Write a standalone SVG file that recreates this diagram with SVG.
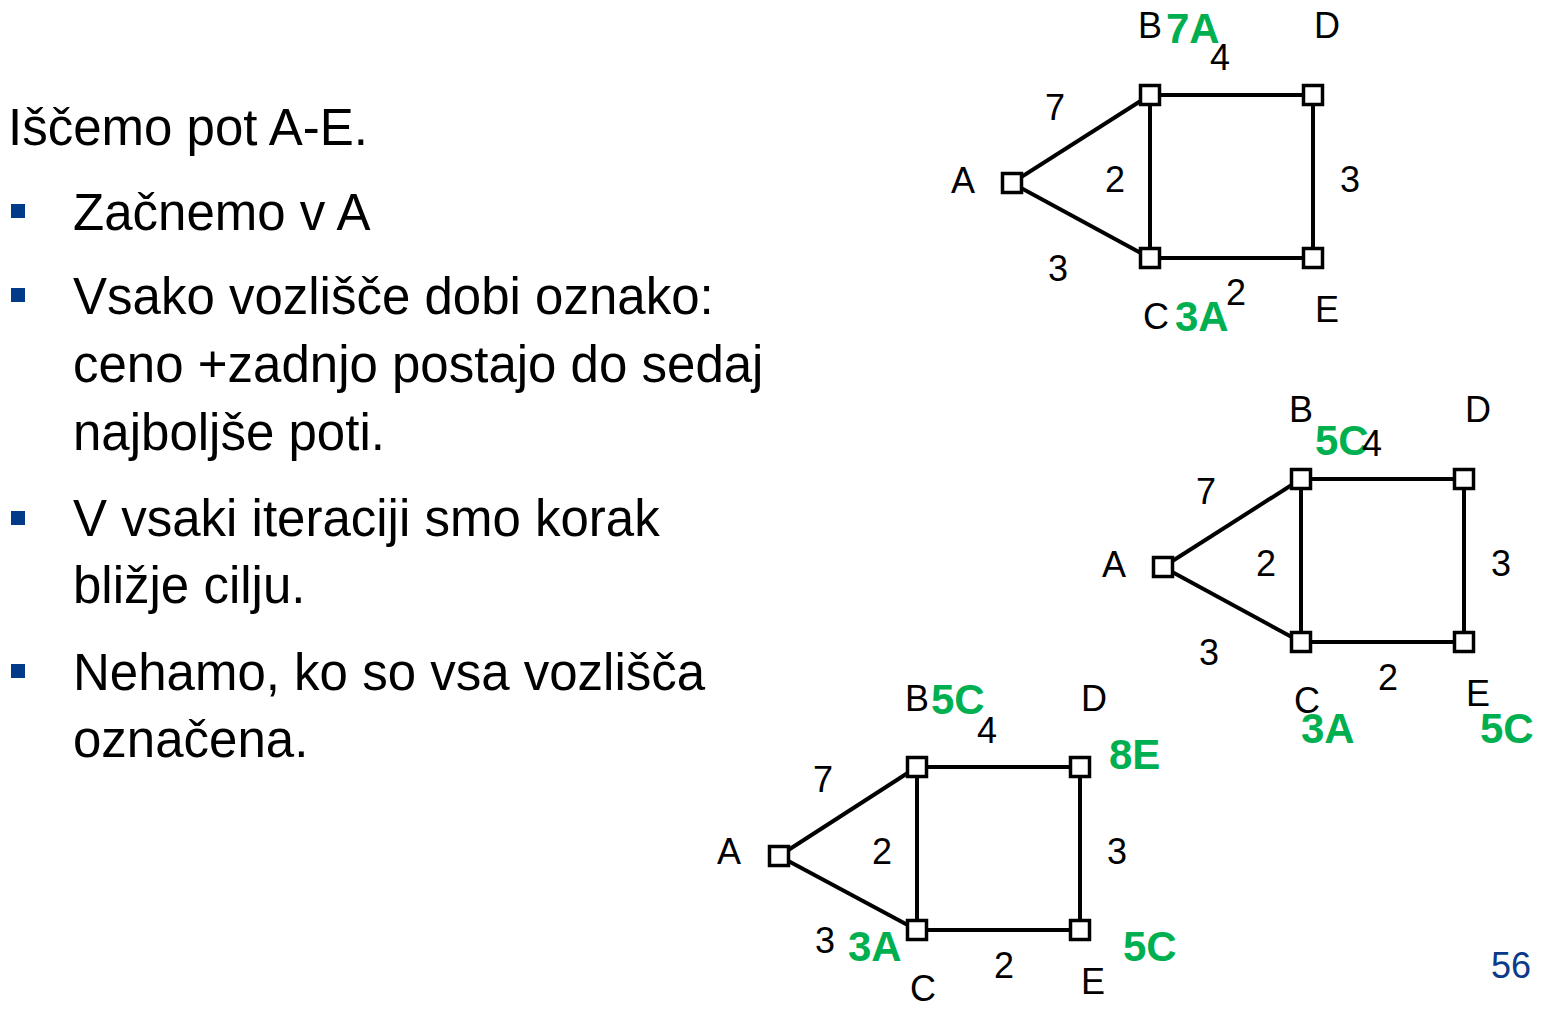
<svg xmlns="http://www.w3.org/2000/svg" width="1547" height="1010" viewBox="0 0 1547 1010">
<style>
text{font-family:"Liberation Sans",Arial,sans-serif;fill:#000}
.body{font-size:51px}
.lbl{font-size:36px}
.grn{font-size:42px;font-weight:bold;fill:#00B050}
.pg{font-size:36px;fill:#0B3A8A}
.bul{fill:#003A88}
.edge{stroke:#000;stroke-width:4;fill:none}
.node{fill:#fff;stroke:#000;stroke-width:3.5}
</style>
<defs>
<rect id="box" x="-9.5" y="-9.5" width="19" height="19" class="node"/>
</defs>
<rect width="1547" height="1010" fill="#fff"/>

<g id="text">
<text class="body" x="8" y="145">Iščemo pot A-E.</text>
<rect class="bul" x="11" y="204" width="14" height="14"/>
<text class="body" x="73" y="230">Začnemo v A</text>
<rect class="bul" x="11" y="288" width="14" height="14"/>
<text class="body" x="73" y="314">Vsako vozlišče dobi oznako:</text>
<text class="body" x="73" y="382">ceno +zadnjo postajo do sedaj</text>
<text class="body" x="73" y="450">najboljše poti.</text>
<rect class="bul" x="11" y="511" width="14" height="14"/>
<text class="body" x="73" y="536">V vsaki iteraciji smo korak</text>
<text class="body" x="73" y="603">bližje cilju.</text>
<rect class="bul" x="11" y="664" width="14" height="14"/>
<text class="body" x="73" y="690">Nehamo, ko so vsa vozlišča</text>
<text class="body" x="73" y="757">označena.</text>
<text class="pg" x="1491" y="978">56</text>
</g>

<!-- Graph 1 -->
<g id="graph1">
<g id="g1-edges">
<line class="edge" x1="1012" y1="183" x2="1150" y2="95"/>
<line class="edge" x1="1012" y1="183" x2="1150" y2="258"/>
<line class="edge" x1="1150" y1="95" x2="1150" y2="258"/>
<line class="edge" x1="1150" y1="95" x2="1313" y2="95"/>
<line class="edge" x1="1313" y1="95" x2="1313" y2="258"/>
<line class="edge" x1="1150" y1="258" x2="1313" y2="258"/>
</g>
<g id="g1-A"><use href="#box" x="1012" y="183"/><text class="lbl" x="951" y="193">A</text></g>
<g id="g1-B"><use href="#box" x="1150" y="95"/><text class="lbl" x="1138" y="38">B</text><text class="grn" x="1166" y="43">7A</text></g>
<g id="g1-D"><use href="#box" x="1313" y="95"/><text class="lbl" x="1314" y="38">D</text></g>
<g id="g1-C"><use href="#box" x="1150" y="258"/><text class="lbl" x="1143" y="329">C</text><text class="grn" x="1175" y="331">3A</text></g>
<g id="g1-E"><use href="#box" x="1313" y="258"/><text class="lbl" x="1315" y="322">E</text></g>
<g id="g1-weights">
<text class="lbl" x="1045" y="120">7</text>
<text class="lbl" x="1210" y="70">4</text>
<text class="lbl" x="1105" y="192">2</text>
<text class="lbl" x="1340" y="192">3</text>
<text class="lbl" x="1048" y="281">3</text>
<text class="lbl" x="1226" y="305">2</text>
</g>
</g>

<!-- Graph 2 -->
<g id="graph2">
<g id="g2-edges">
<line class="edge" x1="1163" y1="567" x2="1301" y2="479"/>
<line class="edge" x1="1163" y1="567" x2="1301" y2="642"/>
<line class="edge" x1="1301" y1="479" x2="1301" y2="642"/>
<line class="edge" x1="1301" y1="479" x2="1464" y2="479"/>
<line class="edge" x1="1464" y1="479" x2="1464" y2="642"/>
<line class="edge" x1="1301" y1="642" x2="1464" y2="642"/>
</g>
<g id="g2-A"><use href="#box" x="1163" y="567"/><text class="lbl" x="1102" y="577">A</text></g>
<g id="g2-B"><use href="#box" x="1301" y="479"/><text class="lbl" x="1289" y="422">B</text><text class="grn" x="1315" y="455">5C</text></g>
<g id="g2-D"><use href="#box" x="1464" y="479"/><text class="lbl" x="1465" y="422">D</text></g>
<g id="g2-C"><use href="#box" x="1301" y="642"/><text class="lbl" x="1294" y="713">C</text><text class="grn" x="1301" y="743">3A</text></g>
<g id="g2-E"><use href="#box" x="1464" y="642"/><text class="lbl" x="1466" y="706">E</text><text class="grn" x="1480" y="743">5C</text></g>
<g id="g2-weights">
<text class="lbl" x="1196" y="504">7</text>
<text class="lbl" x="1362" y="456">4</text>
<text class="lbl" x="1256" y="576">2</text>
<text class="lbl" x="1491" y="576">3</text>
<text class="lbl" x="1199" y="665">3</text>
<text class="lbl" x="1378" y="690">2</text>
</g>
</g>

<!-- Graph 3 -->
<g id="graph3">
<g id="g3-edges">
<line class="edge" x1="779" y1="856" x2="917" y2="767"/>
<line class="edge" x1="779" y1="856" x2="917" y2="930"/>
<line class="edge" x1="917" y1="767" x2="917" y2="930"/>
<line class="edge" x1="917" y1="767" x2="1080" y2="767"/>
<line class="edge" x1="1080" y1="767" x2="1080" y2="930"/>
<line class="edge" x1="917" y1="930" x2="1080" y2="930"/>
</g>
<g id="g3-A"><use href="#box" x="779" y="856"/><text class="lbl" x="717" y="864">A</text></g>
<g id="g3-B"><use href="#box" x="917" y="767"/><text class="lbl" x="905" y="711">B</text><text class="grn" x="931" y="714">5C</text></g>
<g id="g3-D"><use href="#box" x="1080" y="767"/><text class="lbl" x="1081" y="711">D</text><text class="grn" x="1109" y="769">8E</text></g>
<g id="g3-C"><use href="#box" x="917" y="930"/><text class="lbl" x="910" y="1001">C</text><text class="grn" x="848" y="961">3A</text></g>
<g id="g3-E"><use href="#box" x="1080" y="930"/><text class="lbl" x="1081" y="994">E</text><text class="grn" x="1123" y="961">5C</text></g>
<g id="g3-weights">
<text class="lbl" x="813" y="792">7</text>
<text class="lbl" x="977" y="743">4</text>
<text class="lbl" x="872" y="864">2</text>
<text class="lbl" x="1107" y="864">3</text>
<text class="lbl" x="815" y="953">3</text>
<text class="lbl" x="994" y="978">2</text>
</g>
</g>
</svg>
